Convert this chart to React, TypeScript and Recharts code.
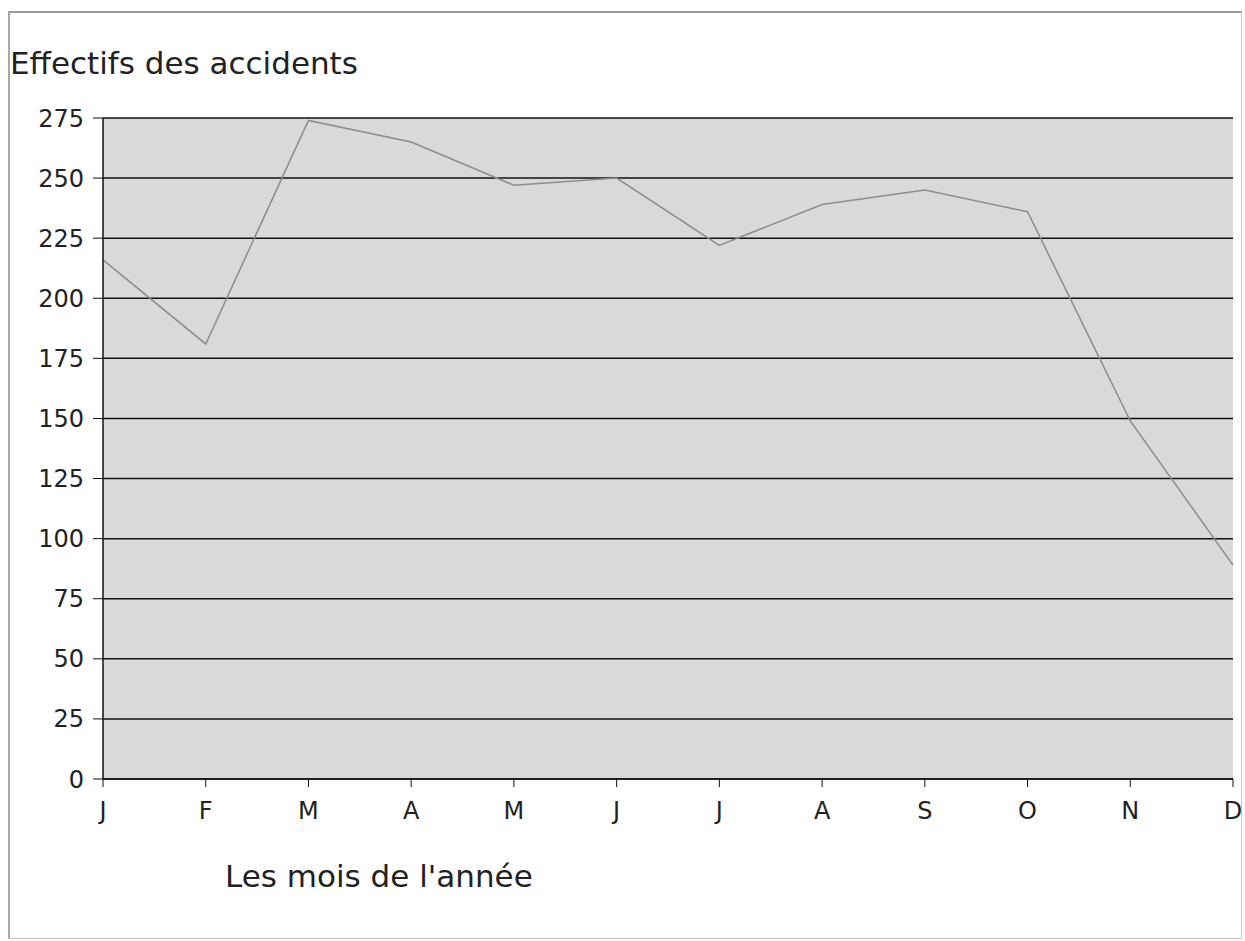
import React from "react";
import {
  LineChart,
  Line,
  XAxis,
  YAxis,
  CartesianGrid,
} from "recharts";

// Monthly counts
const months = ["J", "F", "M", "A", "M", "J", "J", "A", "S", "O", "N", "D"];
const accidents = [216, 181, 274, 265, 247, 250, 222, 239, 245, 236, 149, 89];
const yTicks = [0, 25, 50, 75, 100, 125, 150, 175, 200, 225, 250, 275];

const data = months.map((m, i) => ({ month: m, value: accidents[i] }));

const font = "'DejaVu Sans', Verdana, sans-serif";

export default function App() {
  return (
    <div
      style={{
        position: "absolute",
        left: 0,
        top: 0,
        width: 1245,
        height: 941,
        background: "#fff",
        fontFamily: font,
        overflow: "hidden",
      }}
    >
      {/* faint frame from the scan */}
      <div
        style={{
          position: "absolute",
          left: 8,
          top: 11,
          width: 1231,
          height: 925,
          border: "1px solid #c8c8c8",
          borderTop: "2px solid #9a9a9a",
          borderLeft: "2px solid #a8a8a8",
        }}
      />
      <div
        style={{
          position: "absolute",
          left: 10,
          top: 45,
          fontSize: 31,
          color: "#222",
          whiteSpace: "nowrap",
        }}
      >
        Effectifs des accidents
      </div>

      <div style={{ position: "absolute", left: 0, top: 0 }}>
        <LineChart
          width={1245}
          height={941}
          data={data}
          margin={{ top: 118, right: 12, left: 0, bottom: 122 }}
        >
          <CartesianGrid
            vertical={false}
            stroke="#111"
            strokeWidth={1.5}
            fill="#d9d9d9"
            fillOpacity={1}
          />
          <XAxis
            dataKey="month"
            allowDuplicatedCategory
            height={40}
            axisLine={{ stroke: "#111", strokeWidth: 1.5 }}
            tickLine={{ stroke: "#111" }}
            tickSize={8}
            tickMargin={15}
            tick={{ fill: "#222", fontSize: 24, fontFamily: font }}
            interval={0}
          />
          <YAxis
            width={103}
            domain={[0, 275]}
            ticks={yTicks}
            interval={0}
            axisLine={{ stroke: "#111", strokeWidth: 1.5 }}
            tickLine={{ stroke: "#111" }}
            tickSize={10}
            tickMargin={9}
            tick={{ fill: "#222", fontSize: 24, fontFamily: font }}
          />
          <Line
            type="linear"
            dataKey="value"
            stroke="#8c8c8c"
            strokeWidth={1.5}
            dot={false}
            isAnimationActive={false}
          />
        </LineChart>
      </div>

      <div
        style={{
          position: "absolute",
          left: 225,
          top: 858,
          fontSize: 31,
          color: "#222",
          whiteSpace: "nowrap",
        }}
      >
        Les mois de l'année
      </div>
    </div>
  );
}
